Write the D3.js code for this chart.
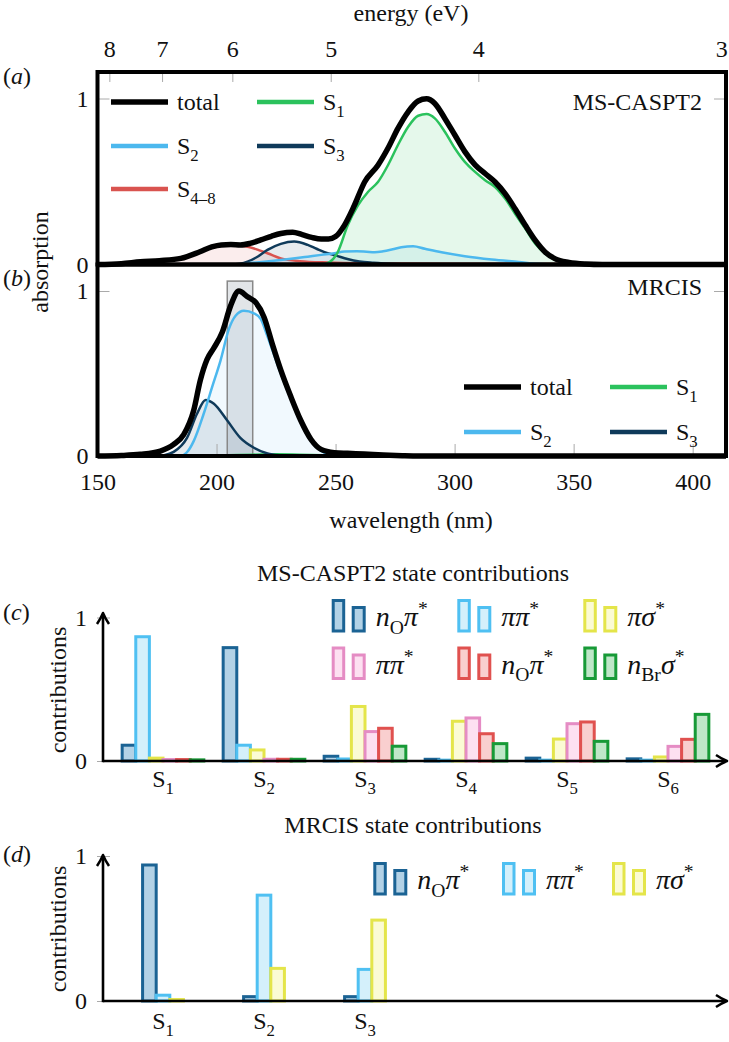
<!DOCTYPE html>
<html><head><meta charset="utf-8">
<script src="https://cdn.jsdelivr.net/npm/d3@7"></script>
<style>
body{margin:0;background:#fff;}
svg, svg text{font-family:"Liberation Serif",serif !important;}
svg text{fill:#111;}
</style></head><body>
<svg id="c" width="729" height="1042"></svg>
<script>
// ---------------- DATA ----------------
const wavelengthTicks = [150, 200, 250, 300, 350, 400];
const energyTicks = [8, 7, 6, 5, 4, 3];
const absTicks = [0, 1];

// MS-CASPT2 spectrum [wavelength nm, absorption]
const caspt2Total = [[150,0],[160,0.005],[168,0.016],[176,0.023],[185,0.037],[193,0.077],[198,0.106],[202,0.118],[206,0.12],[210,0.118],[214,0.127],[218.6,0.148],[223,0.17],[227,0.187],[232,0.195],[236,0.18],[240,0.163],[244,0.153],[247,0.153],[250,0.168],[253.7,0.236],[257.9,0.356],[262.2,0.497],[267.8,0.598],[272,0.70],[276.2,0.82],[280.5,0.92],[284.7,0.985],[288.2,0.998],[291.7,0.97],[295.9,0.88],[300.1,0.78],[304.3,0.68],[308.6,0.60],[312.8,0.548],[317,0.497],[321.2,0.427],[325.4,0.336],[329.7,0.236],[333.9,0.145],[338.1,0.074],[342.3,0.034],[348,0.013],[355,0.003],[362,0],[414,0]];
const caspt2S1 = [[150,0],[244,0],[247.5,0.015],[250.9,0.074],[255.1,0.236],[259.4,0.356],[263.6,0.437],[267.8,0.497],[272,0.598],[276.2,0.72],[280.5,0.83],[284.7,0.896],[288.2,0.906],[291.7,0.88],[295.9,0.80],[300.1,0.70],[304.3,0.618],[308.6,0.558],[312.8,0.508],[317,0.467],[321.2,0.397],[325.4,0.306],[329.7,0.216],[333.9,0.125],[338.1,0.065],[342.3,0.03],[348,0.008],[355,0],[414,0]];
const caspt2S2 = [[150,0],[208,0],[215,0.01],[221,0.018],[227,0.027],[233,0.037],[238.3,0.047],[244,0.058],[249.5,0.068],[253.7,0.078],[259,0.08],[263,0.077],[266.4,0.074],[270,0.08],[274,0.092],[277.6,0.104],[282.6,0.11],[287.5,0.095],[294.5,0.074],[304.3,0.05],[315.6,0.03],[327,0.015],[335,0.004],[342,0],[414,0]];
const caspt2S3 = [[150,0],[206,0],[210,0.005],[213,0.017],[217,0.045],[221.4,0.088],[227,0.124],[232.6,0.138],[238.3,0.118],[242,0.095],[246.7,0.068],[250,0.055],[255,0.033],[260,0.018],[266,0.01],[275,0.003],[285,0],[414,0]];
const caspt2S48 = [[150,0],[160,0.005],[168,0.015],[176,0.022],[185,0.036],[193,0.076],[198,0.104],[202,0.116],[206,0.117],[210,0.114],[214,0.104],[218,0.085],[221.4,0.068],[227,0.037],[235,0.02],[247,0.012],[260,0.008],[300,0.005],[345,0.003],[355,0],[414,0]];

// MRCIS spectrum
const mrcisTotal = [[150,0],[160,0.003],[168,0.01],[176.4,0.03],[182,0.07],[186.2,0.13],[190.4,0.276],[193.2,0.46],[196,0.585],[198.9,0.655],[202.4,0.75],[205.9,0.91],[209.4,1.0],[213,0.965],[216.5,0.93],[220,0.84],[223.5,0.675],[227,0.52],[231.2,0.36],[235.4,0.215],[239.7,0.10],[243.9,0.04],[249.5,0.02],[255,0.016],[262,0.012],[270,0.006],[278,0.002],[285,0],[414,0]];
const mrcisS1 = [[150,0],[195,0],[205,0.004],[215,0.008],[225,0.01],[235,0.008],[245,0.004],[252,0],[414,0]];
const mrcisS2 = [[150,0],[185,0],[188,0.03],[190.4,0.09],[194.6,0.256],[198.2,0.42],[201.7,0.58],[205.2,0.77],[208,0.85],[211.5,0.88],[215.7,0.865],[218.6,0.83],[221.4,0.725],[223.5,0.64],[227,0.50],[231.2,0.35],[235.4,0.205],[239.7,0.09],[243.9,0.03],[248,0.008],[252,0],[414,0]];
const mrcisS3 = [[150,0],[174,0],[178,0.005],[182,0.025],[187.6,0.11],[191.8,0.256],[195.4,0.34],[198.9,0.317],[204.5,0.215],[210,0.11],[215.7,0.05],[221.4,0.015],[227,0.003],[230,0],[414,0]];
const mrcisHighlight = [204.5, 215.2, 1.06]; // from nm, to nm, height

// State contributions
const casStates = ["S1","S2","S3","S4","S5","S6"];
const casTypes = ["nOpi","pipi","pisigma","pipi2","nOpi2","nBrsigma"];
const casNOpi     = [0.11, 0.79, 0.033, 0.012, 0.02, 0.015];
const casPiPi     = [0.866, 0.11, 0.014, 0.006, 0.006, 0.006];
const casPiSigma  = [0.02, 0.077, 0.38, 0.277, 0.153, 0.028];
const casPiPi2    = [0.01, 0.012, 0.205, 0.30, 0.26, 0.102];
const casNOpi2    = [0.01, 0.012, 0.228, 0.19, 0.272, 0.151];
const casNBrSigma = [0.008, 0.012, 0.103, 0.121, 0.137, 0.325];

const mrStates = ["S1","S2","S3"];
const mrTypes = ["nOpi","pipi","pisigma"];
const mrNOpi    = [0.938, 0.03, 0.03];
const mrPiPi    = [0.04, 0.73, 0.218];
const mrPiSigma = [0.01, 0.225, 0.558];

// ---------------- STYLES / LAYOUT ----------------
const HC = 1239.84;
const FS = 24;
const FONT = '"Liberation Serif", serif';
const col = {total:"#000", s1:"#2bc25d", s2:"#4cb8ee", s3:"#0f3a5a", s48:"#d9534f"};
const barStyle = {
  nOpi:{stroke:"#1b6394", fill:"#b3d2e6"},
  pipi:{stroke:"#4fc0f2", fill:"#d4f0fb"},
  pisigma:{stroke:"#e4e54a", fill:"#fbfbd4"},
  pipi2:{stroke:"#e58cc4", fill:"#fde0f1"},
  nOpi2:{stroke:"#e0514f", fill:"#f9cfcf"},
  nBrsigma:{stroke:"#179a37", fill:"#bfe7c8"}
};
const typeLabel = {
  nOpi:[["n","i"],["O","sub"],["π","i"],["*","sup"]],
  nOpi2:[["n","i"],["O","sub"],["π","i"],["*","sup"]],
  pipi:[["ππ","i"],["*","sup"]],
  pipi2:[["ππ","i"],["*","sup"]],
  pisigma:[["πσ","i"],["*","sup"]],
  nBrsigma:[["n","i"],["Br","sub"],["σ","i"],["*","sup"]]
};

const svg = d3.select("#c");

function rich(t, parts, fs) {
  let shift = 0;
  parts.forEach(p => {
    const kind = p[1];
    const target = kind === "sub" ? fs*0.28 : kind === "sup" ? -fs*0.38 : 0;
    const ts = t.append("tspan").text(p[0]).attr("dy", target - shift)
      .attr("font-size", (kind === "sub" || kind === "sup") ? fs*0.7 : fs);
    if (kind === "i") ts.attr("font-style", "italic");
    shift = target;
  });
}
function txt(x, y, s, opts = {}) {
  const t = svg.append("text").attr("x", x).attr("y", y).attr("font-size", opts.fs || FS)
    .attr("text-anchor", opts.anchor || "start").style("font-family", FONT);
  if (opts.rot) t.attr("transform", `rotate(-90,${x},${y})`);
  if (Array.isArray(s)) rich(t, s, opts.fs || FS); else t.text(s);
  return t;
}

// ---------------- SPECTRA ----------------
const aTop = 72, aBot = 264.5, bBot = 456;
const x = d3.scaleLinear().domain([150, 414]).range([97.5, 726]);
const yA = d3.scaleLinear().domain([0, 1]).range([aBot, 98.5]);
const yB = d3.scaleLinear().domain([0, 1]).range([bBot, 291]);

function drawCurve(data, y, color, width) {
  return svg.append("path").datum(data)
    .attr("d", d3.line().x(d => x(d[0])).y(d => y(d[1])).curve(d3.curveMonotoneX))
    .attr("fill", "none").attr("stroke", color).attr("stroke-width", width)
    .attr("stroke-linejoin", "round");
}

// panel a fills
[[caspt2S48, col.s48, 0.1],[caspt2S3, col.s3, 0.1],[caspt2S2, col.s2, 0.1],[caspt2S1, col.s1, 0.12]]
  .forEach(([d,c,o]) => svg.append("path").datum(d)
    .attr("d", d3.area().x(p => x(p[0])).y0(yA(0)).y1(p => yA(p[1])).curve(d3.curveMonotoneX))
    .attr("fill", c).attr("fill-opacity", o));
// panel b fills
[[mrcisS2, col.s2, 0.08],[mrcisS3, col.s3, 0.1]]
  .forEach(([d,c,o]) => svg.append("path").datum(d)
    .attr("d", d3.area().x(p => x(p[0])).y0(yB(0)).y1(p => yB(p[1])).curve(d3.curveMonotoneX))
    .attr("fill", c).attr("fill-opacity", o));

// ticks (gray, inside)
function styleAxis(g) {
  g.attr("font-family", FONT).attr("font-size", FS);
  g.select(".domain").remove();
  g.selectAll(".tick line").attr("stroke", "#aaa").attr("stroke-width", 1);
  g.selectAll(".tick text").attr("fill", "#111").style("font-family", FONT);
}
const fmt = d => d3.format("d")(d);
const gE = svg.append("g").attr("transform", `translate(0,${aTop})`)
  .call(d3.axisTop(x).tickValues(energyTicks.map(e => HC / e)).tickFormat((d, i) => energyTicks[i]).tickSize(-10).tickPadding(15))
  .call(styleAxis);
gE.selectAll(".tick text").filter((d, i) => i === energyTicks.length - 1).attr("text-anchor", "end").attr("dx", 3);
svg.append("g").attr("transform", `translate(0,${bBot})`)
  .call(d3.axisBottom(x).tickValues(wavelengthTicks).tickFormat(fmt).tickSize(-12).tickPadding(17))
  .call(styleAxis);
svg.append("g").attr("transform", `translate(${x(150)},0)`)
  .call(d3.axisLeft(yA).tickValues(absTicks).tickFormat(fmt).tickSize(-12).tickPadding(9)).call(styleAxis);
svg.append("g").attr("transform", `translate(${x(150)},0)`)
  .call(d3.axisLeft(yB).tickValues(absTicks).tickFormat(fmt).tickSize(-12).tickPadding(9)).call(styleAxis);
svg.append("g").attr("transform", `translate(${x(414)},0)`)
  .call(d3.axisRight(yA).tickValues([1]).tickSize(-12).tickFormat("")).call(styleAxis);
svg.append("g").attr("transform", `translate(${x(414)},0)`)
  .call(d3.axisRight(yB).tickValues([1]).tickSize(-12).tickFormat("")).call(styleAxis);

// highlight box in b
svg.append("rect").attr("x", x(mrcisHighlight[0])).attr("y", yB(mrcisHighlight[2]))
  .attr("width", x(mrcisHighlight[1]) - x(mrcisHighlight[0])).attr("height", yB(0) - yB(mrcisHighlight[2]))
  .attr("fill", "#7d8a96").attr("fill-opacity", 0.22).attr("stroke", "#888").attr("stroke-width", 1.5);

// lines a
drawCurve(caspt2S48, yA, col.s48, 2.5);
drawCurve(caspt2S3, yA, col.s3, 2.5);
drawCurve(caspt2S2, yA, col.s2, 2.5);
drawCurve(caspt2S1, yA, col.s1, 2.5);
drawCurve(caspt2Total, yA, col.total, 5.5);
// lines b
drawCurve(mrcisS1, yB, col.s1, 2.5);
drawCurve(mrcisS3, yB, col.s3, 2.5);
drawCurve(mrcisS2, yB, col.s2, 2.5);
drawCurve(mrcisTotal, yB, col.total, 5.5);

// frames
svg.append("rect").attr("x", x(150)).attr("y", aTop).attr("width", x(414) - x(150)).attr("height", aBot - aTop)
  .attr("fill", "none").attr("stroke", "#000").attr("stroke-width", 4);
svg.append("rect").attr("x", x(150)).attr("y", aBot).attr("width", x(414) - x(150)).attr("height", bBot - aBot)
  .attr("fill", "none").attr("stroke", "#000").attr("stroke-width", 4);

// legends a / b
function legLine(x1, y, c, w, label) {
  svg.append("line").attr("x1", x1).attr("x2", x1 + 57).attr("y1", y).attr("y2", y)
    .attr("stroke", c).attr("stroke-width", w);
  txt(x1 + 66, y + 8, label);
}
legLine(111, 102, col.total, 5.5, "total");
legLine(257, 102, col.s1, 4.5, [["S"],["1","sub"]]);
legLine(111, 146, col.s2, 4.5, [["S"],["2","sub"]]);
legLine(257, 146, col.s3, 4.5, [["S"],["3","sub"]]);
legLine(111, 189, col.s48, 4.5, [["S"],["4–8","sub"]]);
legLine(464, 387, col.total, 5.5, "total");
legLine(610, 387, col.s1, 4.5, [["S"],["1","sub"]]);
legLine(464, 432, col.s2, 4.5, [["S"],["2","sub"]]);
legLine(610, 432, col.s3, 4.5, [["S"],["3","sub"]]);

txt(702, 110, "MS-CASPT2", {anchor:"end"});
txt(702, 295, "MRCIS", {anchor:"end"});
txt(411, 21, "energy (eV)", {anchor:"middle"});
txt(411, 528, "wavelength (nm)", {anchor:"middle"});
txt(48, 262, "absorption", {anchor:"middle", rot:true});
txt(3, 84, [["("],["a","i"],[")"]]);
txt(3, 286, [["("],["b","i"],[")"]]);

// ---------------- BAR PANELS ----------------
function arrowUp(xx, y) {
  svg.append("path").attr("d", `M${xx-6},${y+11} Q${xx-2},${y+5} ${xx},${y} Q${xx+2},${y+5} ${xx+6},${y+11}`)
    .attr("fill", "none").attr("stroke", "#000").attr("stroke-width", 2.5).attr("stroke-linejoin", "round");
}
function arrowRight(xx, y) {
  svg.append("path").attr("d", `M${xx-11},${y-6} Q${xx-5},${y-2} ${xx},${y} Q${xx-5},${y+2} ${xx-11},${y+6}`)
    .attr("fill", "none").attr("stroke", "#000").attr("stroke-width", 2.5).attr("stroke-linejoin", "round");
}

function barPanel(o) {
  const xo = d3.scaleBand().domain(o.states).range([112.5, 112.5 + 101 * o.states.length]);
  const xi = d3.scaleBand().domain(o.types).range([0, xo.bandwidth()]).paddingOuter(o.padOuter);
  const y = d3.scaleLinear().domain([0, 1]).range([o.base, o.one]);
  const rows = o.states.flatMap((s, i) => o.types.map((t, j) => ({s, t, v: o.series[j][i]})));
  svg.append("g").selectAll("rect").data(rows).join("rect")
    .attr("x", d => xo(d.s) + xi(d.t)).attr("width", xi.bandwidth())
    .attr("y", d => y(d.v)).attr("height", d => y(0) - y(d.v))
    .attr("fill", d => barStyle[d.t].fill).attr("stroke", d => barStyle[d.t].stroke).attr("stroke-width", 3);
  // y axis ticks + labels
  const gy = svg.append("g").attr("transform", `translate(103,0)`)
    .call(d3.axisLeft(y).tickValues(absTicks).tickFormat(fmt).tickSize(6).tickPadding(10)).call(styleAxis);
  gy.selectAll(".tick line").attr("x1", 7);
  // state labels
  const gx = svg.append("g").attr("transform", `translate(0,${o.base})`)
    .call(d3.axisBottom(xo).tickSize(0).tickPadding(o.labPad)).call(styleAxis);
  gx.selectAll(".tick text").each(function(d) {
    const t = d3.select(this); t.text(null).attr("dy", null).attr("y", o.labY);
    rich(t, [["S"],[d.slice(1),"sub"]], FS);
  });
  // axes lines
  svg.append("line").attr("x1", 103).attr("x2", 103).attr("y1", o.base + 1.2).attr("y2", o.tip)
    .attr("stroke", "#000").attr("stroke-width", 2.6);
  svg.append("line").attr("x1", 103).attr("x2", 726).attr("y1", o.base).attr("y2", o.base)
    .attr("stroke", "#000").attr("stroke-width", 2.6);
  arrowUp(103, o.tip - 1);
  arrowRight(727, o.base);
  // legend
  o.legend.forEach(([t, lx, ly]) => {
    const st = barStyle[t];
    svg.append("rect").attr("x", lx + 1.5).attr("y", ly + 1.5).attr("width", 10.5).attr("height", 30.5)
      .attr("fill", st.fill).attr("stroke", st.stroke).attr("stroke-width", 3);
    svg.append("rect").attr("x", lx + 21.5).attr("y", ly + 8.5).attr("width", 11).attr("height", 23.5)
      .attr("fill", st.fill).attr("stroke", st.stroke).attr("stroke-width", 3);
    txt(lx + 44, ly + 27, typeLabel[t], {fs: 28});
  });
  txt(413, o.titleY, o.title, {anchor:"middle"});
  txt(3, o.tagY, [["("],[o.tag,"i"],[")"]]);
  txt(66, o.ylabY, "contributions", {anchor:"middle", rot:true});
}

barPanel({
  states: casStates, types: casTypes,
  series: [casNOpi, casPiPi, casPiSigma, casPiPi2, casNOpi2, casNBrSigma],
  padOuter: 0.71, base: 761, one: 617.5, tip: 614, labPad: 10, labY: 26,
  legend: [["nOpi",331.7,599],["pipi",457.3,599],["pisigma",583.3,599],
           ["pipi2",331.7,646.5],["nOpi2",457.3,646.5],["nBrsigma",583.3,646.5]],
  title: "MS-CASPT2 state contributions", titleY: 581, tag: "c", tagY: 620, ylabY: 690
});
barPanel({
  states: mrStates, types: mrTypes,
  series: [mrNOpi, mrPiPi, mrPiSigma],
  padOuter: 2.21, base: 1001, one: 856, tip: 856, labPad: 12, labY: 28,
  legend: [["nOpi",373.3,862],["pipi",502,862],["pisigma",612,862]],
  title: "MRCIS state contributions", titleY: 833, tag: "d", tagY: 862, ylabY: 929
});
</script>
</body></html>
